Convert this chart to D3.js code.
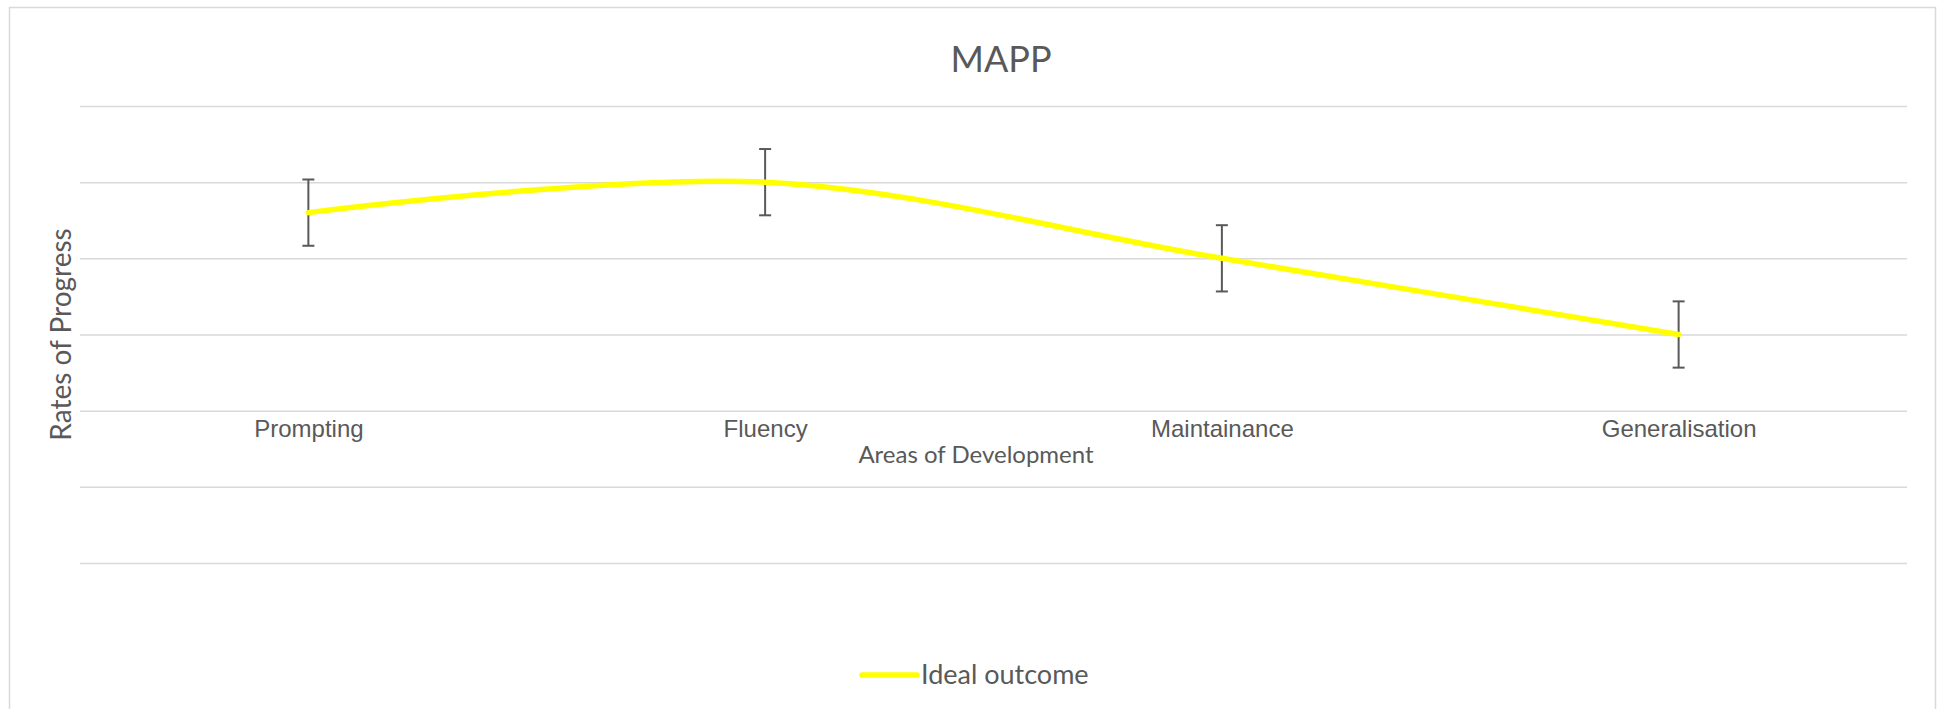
<!DOCTYPE html>
<html lang='en'>
    <head>
        <script src="https://d3js.org/d3.v7.min.js"></script>
    </head>
    <style>
        body{
            margin:0px;
            padding:0px;
            background-color:white;
        }
        svg{
            display:block;
            font-family:Lato, 'Noto Sans', sans-serif;
        }
        .grid line{
            stroke:#d9d9d9;
            stroke-width:1.5;
        }
        .cat text{
            fill:#595959;
            font-size:24px;
        }
    </style>
    <body>
        <svg id="chart" width="1939" height="709"></svg>
        <script>
            // values
            const categories=['Prompting','Fluency','Maintainance','Generalisation'];
            const idealOutcome=[2.6,3,2,1];
            const errorValues=[0.435,0.435,0.435,0.435];
            const gridTicks=[-2,-1,0,1,2,3,4];
            const seriesName='Ideal outcome';

            const width=1939;
            const height=709;
            const plot={left:80,right:1907,top:106,bottom:563};
            const textColor='#595959';

            const svg=d3.select('#chart');

            // chart frame (its bottom edge runs off the picture)
            svg.append('rect')
               .attr('x',9.5)
               .attr('y',7.5)
               .attr('width',1926)
               .attr('height',height+20)
               .attr('fill','white')
               .attr('stroke','#d9d9d9')
               .attr('stroke-width',1.5);

            const xScale=d3.scalePoint()
                           .domain(categories)
                           .range([plot.left,plot.right])
                           .padding(0.5);
            const yScale=d3.scaleLinear()
                           .domain([d3.min(gridTicks),d3.max(gridTicks)])
                           .range([plot.bottom,plot.top]);

            // horizontal gridlines, no tick labels
            const grid=svg.append('g')
                          .attr('class','grid')
                          .attr('transform','translate('+plot.left+',0)')
                          .call(d3.axisLeft(yScale)
                                  .tickValues(gridTicks)
                                  .tickSize(-(plot.right-plot.left))
                                  .tickFormat(''));
            grid.select('.domain').remove();

            // category labels sit on the zero line
            const cat=svg.append('g')
                         .attr('class','cat')
                         .attr('transform','translate(0,'+yScale(0)+')')
                         .call(d3.axisBottom(xScale).tickSize(0).tickPadding(9.5));
            cat.select('.domain').remove();
            cat.selectAll('text').attr('font-family',null);

            // error bars
            const bars=svg.append('g');
            const capHalf=6;
            categories.forEach((c,i)=>{
                const x=xScale(c);
                const hi=yScale(idealOutcome[i]+errorValues[i]);
                const lo=yScale(idealOutcome[i]-errorValues[i]);
                bars.append('line').attr('x1',x).attr('x2',x).attr('y1',hi).attr('y2',lo);
                bars.append('line').attr('x1',x-capHalf).attr('x2',x+capHalf).attr('y1',hi).attr('y2',hi);
                bars.append('line').attr('x1',x-capHalf).attr('x2',x+capHalf).attr('y1',lo).attr('y2',lo);
            });
            bars.selectAll('line')
                .attr('stroke',textColor)
                .attr('stroke-width',2);

            // smoothed series line
            const line=d3.line()
                         .x((d,i)=>xScale(categories[i]))
                         .y(d=>yScale(d))
                         .curve(d3.curveCardinal.tension(0));
            svg.append('path')
               .datum(idealOutcome)
               .attr('d',line)
               .attr('fill','none')
               .attr('stroke','#ffff00')
               .attr('stroke-width',5.5)
               .attr('stroke-linecap','round');

            // title
            svg.append('text')
               .attr('x',1001)
               .attr('y',72)
               .attr('text-anchor','middle')
               .attr('fill',textColor)
               .attr('font-size',36)
               .text('MAPP');

            // axis titles
            svg.append('text')
               .attr('x',976)
               .attr('y',463)
               .attr('text-anchor','middle')
               .attr('fill',textColor)
               .attr('font-size',24)
               .text('Areas of Development');

            svg.append('text')
               .attr('transform','translate(71,'+((plot.top+plot.bottom)/2)+') rotate(-90)')
               .attr('text-anchor','middle')
               .attr('fill',textColor)
               .attr('font-size',28)
               .text('Rates of Progress');

            // legend
            const legend=svg.append('g').attr('transform','translate(862,675)');
            legend.append('line')
                  .attr('x1',0).attr('x2',55)
                  .attr('y1',0).attr('y2',0)
                  .attr('stroke','#ffff00')
                  .attr('stroke-width',5.5)
                  .attr('stroke-linecap','round');
            legend.append('text')
                  .attr('x',59)
                  .attr('y',9)
                  .attr('fill',textColor)
                  .attr('font-size',27)
                  .text(seriesName);
        </script>
    </body>
</html>
